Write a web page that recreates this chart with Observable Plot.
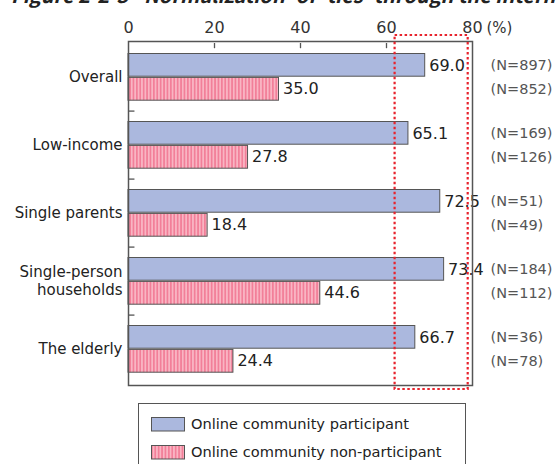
<!DOCTYPE html>
<html><head><meta charset="utf-8">
<script src="https://cdn.jsdelivr.net/npm/d3@7"></script>
<script src="https://cdn.jsdelivr.net/npm/@observablehq/plot@0.6"></script>
<style>
body{margin:0;background:#fff;font-family:"DejaVu Sans",sans-serif;}
#wrap{position:relative;width:557px;height:464px;overflow:hidden;}
#title{position:absolute;left:11px;top:-15px;font-family:"Noto Sans CJK JP",sans-serif;font-size:20px;line-height:20px;font-weight:bold;font-style:italic;color:#222;white-space:nowrap;}
#chart{position:absolute;left:0;top:0;}
#legend{position:absolute;left:138px;top:403px;width:328px;height:70px;border:1.3px solid #555;box-sizing:border-box;background:#fff;}
.li{position:absolute;left:12px;display:flex;align-items:center;font-size:14.6px;color:#222;line-height:16px;}
.li svg{margin-right:5px;}
</style></head><body>
<div id="wrap">
<div id="title">Figure 2-2-3&nbsp;&nbsp;'Normalization' of 'ties' through the internet</div>
<div id="chart"></div>
<div id="legend"></div>
</div>
<script>
const categories = ["Overall","Low-income","Single parents","Single-person households","The elderly"];
const categoryLabels = ["Overall","Low-income","Single parents","Single-person\nhouseholds","The elderly"];
const participant = [69.0, 65.1, 72.5, 73.4, 66.7];
const nonParticipant = [35.0, 27.8, 18.4, 44.6, 24.4];
const participantN = [897, 169, 51, 184, 36];
const nonParticipantN = [852, 126, 49, 112, 78];
const xTicks = [0, 20, 40, 60, 80];
const highlight = [{x1: 62, x2: 79}];
const seriesNames = ["Online community participant", "Online community non-participant"];

const dataP = categories.map((c,i)=>({cat:c, v:participant[i], n:participantN[i]}));
const dataN = categories.map((c,i)=>({cat:c, v:nonParticipant[i], n:nonParticipantN[i]}));
const seps = categories.slice(1);

const blue = "#abb8de";
const edge = "#555";
const font = "'DejaVu Sans',sans-serif";

const plot = Plot.plot({
  width: 557, height: 395,
  marginTop: 41, marginBottom: 10, marginLeft: 128, marginRight: 85,
  style: {fontFamily: font, background: "transparent", overflow: "visible"},
  x: {domain: [0, 80], axis: null},
  y: {domain: categories, padding: 0, axis: null},
  marks: [
    Plot.barX(dataP, {x: "v", y: "cat", fill: blue, stroke: edge, strokeWidth: 1, insetTop: 10.5, insetBottom: 34.8}),
    Plot.barX(dataN, {x: "v", y: "cat", fill: "url(#stripes)", stroke: edge, strokeWidth: 1, insetTop: 34.4, insetBottom: 10.8}),
    Plot.text(dataP, {x: "v", y: "cat", text: d=>d.v.toFixed(1), dx: 4, dy: -12, textAnchor: "start", fontSize: 16, fill: "#222"}),
    Plot.text(dataN, {x: "v", y: "cat", text: d=>d.v.toFixed(1), dx: 4, dy: 11.5, textAnchor: "start", fontSize: 16, fill: "#222"}),
    Plot.text(dataP, {x: 80, y: "cat", text: d=>`(N=${d.n})`, dx: 18, dy: -12, textAnchor: "start", fontSize: 14.5, fill: "#555"}),
    Plot.text(dataN, {x: 80, y: "cat", text: d=>`(N=${d.n})`, dx: 18, dy: 11.5, textAnchor: "start", fontSize: 14.5, fill: "#555"}),
    Plot.text(categories, {x: 0, y: d=>d, text: (d,i)=>categoryLabels[i], dx: -6, dy: -1.5, textAnchor: "end", fontSize: 15, fill: "#222", lineHeight: 1.25}),
    Plot.text(xTicks, {x: d=>d, y: ()=>categories[0], text: d=>String(d), dy: -49.5, fontSize: 16, fill: "#333"}),
    Plot.text(["(%)"], {x: 80, y: ()=>categories[0], text: d=>d, dx: 14, dy: -49.5, textAnchor: "start", fontSize: 15, fill: "#333"}),
    Plot.tickX(xTicks.slice(1,4), {x: d=>d, y: ()=>categories[0], stroke: edge, strokeWidth: 1.3, insetBottom: 62.8}),
    Plot.ruleY(seps, {y: d=>d, x1: 0, x2: 1.5, dy: -34.4, stroke: edge, strokeWidth: 1.3}),
    Plot.frame({stroke: edge, strokeWidth: 1.5}),
    Plot.rect(highlight, {x1: "x1", x2: "x2", fill: "none", stroke: "#e8232d", strokeWidth: 2.2, strokeDasharray: "2.5,2.5", insetTop: -6, insetBottom: -4})
  ]
});

const ns = "http://www.w3.org/2000/svg";
const defs = document.createElementNS(ns, "defs");
defs.innerHTML = `<pattern id="stripes" patternUnits="userSpaceOnUse" width="3.4" height="10">
  <rect width="3.4" height="10" fill="#f9b5c3"/><rect width="1.7" height="10" fill="#f27f99"/></pattern>`;
plot.insertBefore(defs, plot.firstChild);
document.getElementById("chart").appendChild(plot);

const leg = document.getElementById("legend");
seriesNames.forEach((name,i)=>{
  const d = document.createElement("div");
  d.className = "li";
  d.style.top = (i===0 ? 12 : 40) + "px";
  d.innerHTML = `<svg width="35" height="15"><defs><pattern id="lstripes${i}" patternUnits="userSpaceOnUse" width="3.4" height="10"><rect width="3.4" height="10" fill="#f9b5c3"/><rect width="1.7" height="10" fill="#f27f99"/></pattern></defs><rect x="0.5" y="0.5" width="33" height="13.5" fill="${i===0?blue:'url(#lstripes'+i+')'}" stroke="${edge}" stroke-width="1"/></svg><span>${name}</span>`;
  leg.appendChild(d);
});
</script>
</body></html>
